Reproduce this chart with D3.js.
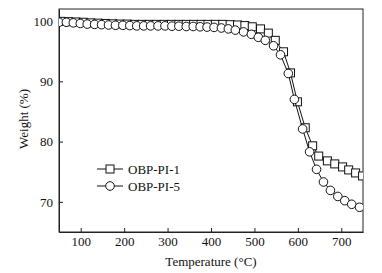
<!DOCTYPE html>
<html>
<head>
<meta charset="utf-8">
<script src="https://cdn.jsdelivr.net/npm/d3@7"></script>
<style>
  body { margin: 0; background: #fff; }
</style>
</head>
<body>
<div id="chart"></div>
<script>
// size of the picture and plot box
const WIDTH = 382;
const HEIGHT = 273;
const MARGIN = { left: 59, top: 9, right: 19, bottom: 41 };
const FONT = "'Liberation Serif', 'DejaVu Serif', serif";

// OBP-PI-1 (squares)
const tempPI1 = [55, 72, 89, 106, 123, 140, 157, 174, 190, 207, 224, 241, 258, 275, 292, 309, 326, 343, 360, 377,
  393, 410, 427, 444, 461, 478, 495, 514, 532, 548, 567, 583, 599, 617, 634, 648, 668, 685, 703, 717, 733, 749];
const weightPI1 = [99.95, 99.9, 99.85, 99.8, 99.7, 99.65, 99.6, 99.55, 99.5, 99.5, 99.45, 99.45, 99.45, 99.45, 99.45, 99.45, 99.45, 99.45, 99.45, 99.45,
  99.45, 99.45, 99.45, 99.4, 99.35, 99.25, 99.05, 98.7, 98.0, 96.8, 94.9, 91.4, 86.6, 82.3, 79.3, 77.6, 76.8, 76.3, 75.8, 75.3, 74.8, 74.3];

// OBP-PI-5 (circles)
const tempPI5 = [50, 67, 83, 99, 115, 132, 148, 164, 180, 197, 213, 229, 245, 261, 278, 294, 310, 326, 343, 359,
  375, 391, 407, 424, 440, 456, 475, 493, 509, 525, 544, 560, 578, 592, 611, 627, 643, 659, 675, 692, 708, 724, 742];
const weightPI5 = [99.8, 99.8, 99.7, 99.6, 99.5, 99.45, 99.4, 99.35, 99.3, 99.3, 99.25, 99.2, 99.2, 99.2, 99.2, 99.2, 99.15, 99.15, 99.1, 99.1,
  99.05, 99.0, 98.95, 98.85, 98.7, 98.5, 98.2, 97.8, 97.3, 96.8, 95.9, 94.4, 91.3, 87.0, 82.1, 78.3, 75.4, 73.3, 71.9, 70.9, 70.2, 69.6, 69.1];

const xTicks = [100, 200, 300, 400, 500, 600, 700];
const yTicks = [70, 80, 90, 100];
const seriesNames = ["OBP-PI-1", "OBP-PI-5"];

const svg = d3.select("#chart").append("svg")
  .attr("width", WIDTH)
  .attr("height", HEIGHT);

const x = d3.scaleLinear().domain([50, 750]).range([MARGIN.left, WIDTH - MARGIN.right]);
const y = d3.scaleLinear().domain([65, 102]).range([HEIGHT - MARGIN.bottom, MARGIN.top]);

// clip so the last markers get cut by the frame
svg.append("clipPath").attr("id", "plot-clip")
  .append("rect")
  .attr("x", MARGIN.left).attr("y", MARGIN.top)
  .attr("width", WIDTH - MARGIN.left - MARGIN.right)
  .attr("height", HEIGHT - MARGIN.top - MARGIN.bottom);

// axes, ticks pointing inward
const xAxis = d3.axisBottom(x).tickValues(xTicks).tickSizeInner(-4).tickSizeOuter(0).tickPadding(5);
const yAxis = d3.axisLeft(y).tickValues(yTicks).tickSizeInner(-4).tickSizeOuter(0).tickPadding(6);

svg.append("g").attr("class", "x-axis")
  .attr("transform", `translate(0,${HEIGHT - MARGIN.bottom})`)
  .call(xAxis);
svg.append("g").attr("class", "y-axis")
  .attr("transform", `translate(${MARGIN.left},0)`)
  .call(yAxis);

svg.selectAll(".x-axis, .y-axis").attr("font-family", FONT).attr("font-size", 13);
svg.selectAll(".x-axis text, .y-axis text").attr("fill", "#111");
svg.selectAll(".x-axis path, .y-axis path").attr("stroke", "#222");
svg.selectAll(".tick line").attr("stroke", "#222");

// frame
svg.append("rect")
  .attr("x", MARGIN.left).attr("y", MARGIN.top)
  .attr("width", WIDTH - MARGIN.left - MARGIN.right)
  .attr("height", HEIGHT - MARGIN.top - MARGIN.bottom)
  .attr("fill", "none").attr("stroke", "#222").attr("stroke-width", 1);

const plot = svg.append("g").attr("clip-path", "url(#plot-clip)");

const line = d3.line().x((d) => x(d[0])).y((d) => y(d[1]));
const dataPI1 = tempPI1.map((t, i) => [t, weightPI1[i]]);
const dataPI5 = tempPI5.map((t, i) => [t, weightPI5[i]]);

// squares first, circles over them
plot.append("path").datum(dataPI1)
  .attr("d", line).attr("fill", "none").attr("stroke", "#111").attr("stroke-width", 1);
plot.selectAll("rect.sq").data(dataPI1).join("rect")
  .attr("class", "sq")
  .attr("x", (d) => x(d[0]) - 4).attr("y", (d) => y(d[1]) - 4)
  .attr("width", 8).attr("height", 8)
  .attr("fill", "#fff").attr("stroke", "#111").attr("stroke-width", 1);

plot.append("path").datum(dataPI5)
  .attr("d", line).attr("fill", "none").attr("stroke", "#111").attr("stroke-width", 1);
plot.selectAll("circle").data(dataPI5).join("circle")
  .attr("cx", (d) => x(d[0])).attr("cy", (d) => y(d[1]))
  .attr("r", 4.3)
  .attr("fill", "#fff").attr("stroke", "#111").attr("stroke-width", 1);

// legend
const legend = svg.append("g").attr("transform", "translate(97,169)");
seriesNames.forEach((name, i) => {
  const g = legend.append("g").attr("transform", `translate(0,${i * 17})`);
  g.append("line").attr("x1", 0).attr("x2", 26).attr("y1", 0).attr("y2", 0)
    .attr("stroke", "#111");
  if (i === 0) {
    g.append("rect").attr("x", 9).attr("y", -4).attr("width", 8).attr("height", 8)
      .attr("fill", "#fff").attr("stroke", "#111");
  } else {
    g.append("circle").attr("cx", 13).attr("cy", 0).attr("r", 4.3)
      .attr("fill", "#fff").attr("stroke", "#111");
  }
  g.append("text").attr("x", 31).attr("y", 0).attr("dy", "0.35em")
    .attr("font-family", FONT).attr("font-size", 13).attr("fill", "#111")
    .text(name);
});

// axis titles
svg.append("text")
  .attr("x", (MARGIN.left + WIDTH - MARGIN.right) / 2)
  .attr("y", 266)
  .attr("text-anchor", "middle")
  .attr("font-family", FONT).attr("font-size", 13).attr("fill", "#111")
  .text("Temperature (°C)");

svg.append("text")
  .attr("transform", "translate(28,119) rotate(-90)")
  .attr("text-anchor", "middle")
  .attr("font-family", FONT).attr("font-size", 13).attr("fill", "#111")
  .text("Weight (%)");
</script>
</body>
</html>
